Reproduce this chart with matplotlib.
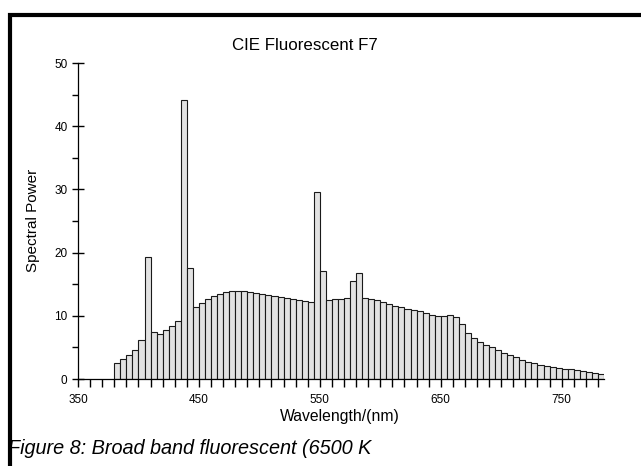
#!/usr/bin/env python3
# CIE Fluorescent F7 spectral power distribution, bar chart

import matplotlib
matplotlib.use("Agg")
import matplotlib.pyplot as plt
from matplotlib.lines import Line2D
from matplotlib.ticker import MultipleLocator

plt.rcParams["font.family"] = ["Liberation Sans", "DejaVu Sans"]

wavelengths = list(range(380, 781, 5))
spectral_power = [
    2.56, 3.18, 3.84, 4.53, 6.15, 19.37, 7.37, 7.05, 7.71, 8.41,
    9.15, 44.14, 17.52, 11.35, 12.00, 12.58, 13.08, 13.45, 13.71, 13.88,
    13.95, 13.93, 13.82, 13.64, 13.43, 13.25, 13.08, 12.93, 12.78, 12.60,
    12.44, 12.33, 12.26, 29.52, 17.05, 12.44, 12.58, 12.72, 12.83, 15.46,
    16.75, 12.83, 12.67, 12.45, 12.19, 11.89, 11.60, 11.35, 11.12, 10.95,
    10.76, 10.42, 10.11, 10.04, 10.02, 10.11, 9.87, 8.65, 7.27, 6.44,
    5.83, 5.41, 5.04, 4.57, 4.12, 3.77, 3.46, 3.08, 2.73, 2.47,
    2.25, 2.06, 1.90, 1.75, 1.62, 1.54, 1.45, 1.32, 1.17, 0.99,
    0.81,
]
x_ticks = [350, 450, 550, 650, 750]

fig = plt.figure(figsize=(6.41, 4.66), dpi=100)
ax = fig.add_axes([78 / 641, 87 / 466, 526 / 641, 316 / 466])

ax.bar(wavelengths, spectral_power, width=5, align="edge",
       color="#e2e2e2", edgecolor="#1a1a1a", linewidth=0.8, zorder=1)

ax.set_xlim(350, 785)
ax.set_ylim(0, 50)
ax.set_xticks(x_ticks)
ax.xaxis.set_minor_locator(MultipleLocator(10))
ax.yaxis.set_major_locator(MultipleLocator(10))
ax.yaxis.set_minor_locator(MultipleLocator(5))
ax.tick_params(axis="both", which="both", width=1.0, labelsize=8.5, colors="black")
ax.tick_params(axis="y", which="major", length=8, direction="inout")
ax.tick_params(axis="y", which="minor", length=4, direction="out")
ax.tick_params(axis="x", which="both", length=6, direction="out", pad=5)
ax.set_axisbelow(False)
for s in ("top", "right"):
    ax.spines[s].set_visible(False)
for s in ("left", "bottom"):
    ax.spines[s].set_linewidth(0.9)

fig.text(340 / 641, 1 - 416 / 466, "Wavelength/(nm)", ha="center", va="center", fontsize=11.3)
fig.text(33 / 641, 1 - 220 / 466, "Spectral Power", ha="center", va="center",
         rotation=90, fontsize=11)
fig.text(305 / 641, 1 - 45 / 466, "CIE Fluorescent F7", ha="center", va="center", fontsize=12.2)
fig.text(8 / 641, 1 - 448 / 466, "Figure 8: Broad band fluorescent (6500 K",
         ha="left", va="center", fontsize=14.3, style="italic")

# thick frame along top and left edge
fig.add_artist(Line2D([9.5 / 641, 9.5 / 641, 1.0], [0.0, 1 - 14.5 / 466, 1 - 14.5 / 466],
                      transform=fig.transFigure, color="black", linewidth=3,
                      solid_joinstyle="miter"))

fig.savefig("out.png", dpi=100)
print("saved out.png")
